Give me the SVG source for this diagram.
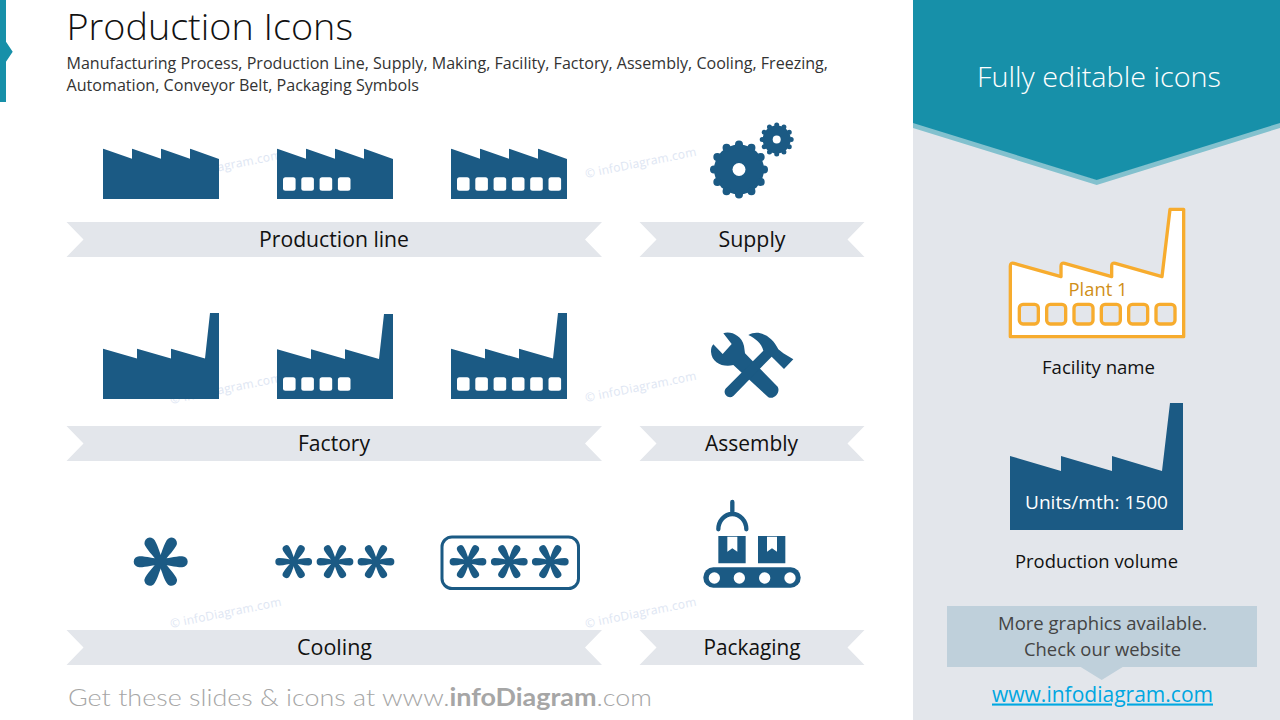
<svg xmlns="http://www.w3.org/2000/svg" xmlns:xlink="http://www.w3.org/1999/xlink" width="1280" height="720" viewBox="0 0 1280 720">
<style>
text{font-family:"Open Sans","Noto Sans","Liberation Sans",sans-serif}
.i{fill:#1B5A84}
.r{fill:#E3E6EB}
.w{fill:#fff}
.l{font-size:21px;fill:#111;text-anchor:middle}
.s{font-size:16.5px;fill:#333}
.n{font-size:18px;fill:#111;text-anchor:middle}
.m{font-size:12px;fill:#DEE6F3}
</style>
<defs>
<path id="f1" d="M103 199V149.500Q103 148.500 104 149L132 158.800V149.500Q132 148.500 133 149L161 158.800V149.500Q161 148.500 162 149L190 158.800V149.500Q190 148.500 191 149L219 159V199Z"/>
<path id="f2" d="M103 399V349Q103 348.500 104 349L137 358.500V349.500Q137 348.500 138 349L171 358.500V349.500Q171 348.500 172 349L205 358.500L210 313H219V399Z"/>
<rect id="win" y="177.300" width="12.600" height="13.400" rx="2.500"/>
<path id="pet" d="M0-3C8-3 13-5.500 21.500-5.500A5.500 5.500 0 0 1 21.500 5.500C13 5.500 8 3 0 3Z"/>
<g id="ast">
<use xlink:href="#pet"/><use xlink:href="#pet" transform="rotate(60)"/><use xlink:href="#pet" transform="rotate(120)"/><use xlink:href="#pet" transform="rotate(180)"/><use xlink:href="#pet" transform="rotate(240)"/><use xlink:href="#pet" transform="rotate(300)"/>
<circle r="6.500"/>
</g>
<g id="wins4"><use xlink:href="#win" x="283"/><use xlink:href="#win" x="301.300"/><use xlink:href="#win" x="319.600"/><use xlink:href="#win" x="337.900"/></g>
<g id="wins6"><use xlink:href="#win" x="457"/><use xlink:href="#win" x="475.300"/><use xlink:href="#win" x="493.600"/><use xlink:href="#win" x="511.900"/><use xlink:href="#win" x="530.200"/><use xlink:href="#win" x="548.500"/></g>
</defs>
<rect width="1280" height="720" fill="#fff"/>
<g id="accent"><path d="M0 0H6V41.700L12.700 51.700L6 61.700V102H0Z" fill="#1790A9"/></g>
<g id="watermarks">
<text class="m" transform="translate(171 181) rotate(-11.400)" textLength="113" lengthAdjust="spacing">© infoDiagram.com</text>
<text class="m" transform="translate(586 178) rotate(-11.400)" textLength="113" lengthAdjust="spacing">© infoDiagram.com</text>
<text class="m" transform="translate(171 404) rotate(-11.400)" textLength="113" lengthAdjust="spacing">© infoDiagram.com</text>
<text class="m" transform="translate(586 402) rotate(-11.400)" textLength="113" lengthAdjust="spacing">© infoDiagram.com</text>
<text class="m" transform="translate(171 628) rotate(-11.400)" textLength="113" lengthAdjust="spacing">© infoDiagram.com</text>
<text class="m" transform="translate(586 628) rotate(-11.400)" textLength="113" lengthAdjust="spacing">© infoDiagram.com</text>
</g>
<g id="title">
<text x="66.500" y="40" font-size="37" font-weight="300" fill="#111" textLength="286.500" lengthAdjust="spacingAndGlyphs">Production Icons</text>
<text class="s" x="66.500" y="68.500" textLength="761.500" lengthAdjust="spacingAndGlyphs">Manufacturing Process, Production Line, Supply, Making, Facility, Factory, Assembly, Cooling, Freezing,</text>
<text class="s" x="66.500" y="91" textLength="352.500" lengthAdjust="spacingAndGlyphs">Automation, Conveyor Belt, Packaging Symbols</text>
</g>
<g id="production-line-1" class="i"><use xlink:href="#f1"/></g>
<g id="production-line-2"><use xlink:href="#f1" x="174" class="i"/><use xlink:href="#wins4" class="w"/></g>
<g id="production-line-3"><use xlink:href="#f1" x="348" class="i"/><use xlink:href="#wins6" class="w"/></g>
<g id="supply">
<circle cx="739" cy="169.500" r="25" class="i"/>
<circle cx="739" cy="169.500" r="25" fill="none" stroke="#1B5A84" stroke-width="8" stroke-linecap="round" pathLength="120" stroke-dasharray="0 10"/>
<circle cx="739" cy="169.500" r="6.500" class="w"/>
<circle cx="776.700" cy="139.500" r="14" class="i"/>
<circle cx="776.700" cy="139.500" r="14.500" fill="none" stroke="#1B5A84" stroke-width="5" stroke-linecap="round" pathLength="120" stroke-dasharray="0 10"/>
<circle cx="776.700" cy="139.500" r="4" class="w"/>
</g>
<g id="ribbon-production-line"><path class="r" d="M66.500 222H602L585 239.500L602 257H66.500L83.500 239.500Z"/><text class="l" x="334" y="247" textLength="150" lengthAdjust="spacingAndGlyphs">Production line</text></g>
<g id="ribbon-supply"><path class="r" d="M639.500 222H864.500L847.500 239.500L864.500 257H639.500L656.500 239.500Z"/><text class="l" x="752" y="247" textLength="67" lengthAdjust="spacingAndGlyphs">Supply</text></g>
<g id="factory-1" class="i"><use xlink:href="#f2"/></g>
<g id="factory-2"><path class="i" d="M277 399V349.500Q277 349 278 349.500L311 359V349.500Q311 349 312 349.500L345 359V349.500Q345 349 346 349.500L379 359L384 314H393V399Z"/><use xlink:href="#wins4" y="200" class="w"/></g>
<g id="factory-3"><use xlink:href="#f2" x="348" class="i"/><use xlink:href="#wins6" y="200" class="w"/></g>
<g id="assembly" transform="translate(680 320) scale(.33333)" class="i">
<path d="M130 40C150 32 185 45 192 78L195 100L293 200C302 215 285 240 265 232L160 135C130 142 95 130 93 95C93 85 95 78 100 73L128 102L155 72Z"/>
<path d="M205 45C235 28 275 45 295 88L310 100L340 118L312 147L285 120L275 110L160 228C145 240 125 220 138 205L250 92C245 70 225 55 205 45Z"/>
</g>
<g id="ribbon-factory"><path class="r" d="M66.500 426H602L585 443.500L602 461H66.500L83.500 443.500Z"/><text class="l" x="334" y="451" textLength="72" lengthAdjust="spacingAndGlyphs">Factory</text></g>
<g id="ribbon-assembly"><path class="r" d="M639.500 426H864.500L847.500 443.500L864.500 461H639.500L656.500 443.500Z"/><text class="l" x="751.500" y="451" textLength="93" lengthAdjust="spacingAndGlyphs">Assembly</text></g>
<g id="cooling-1" class="i"><use xlink:href="#ast" transform="translate(160.700 561.700)"/></g>
<g id="cooling-2" class="i"><use xlink:href="#ast" transform="translate(293.700 561.700) scale(.68)"/><use xlink:href="#ast" transform="translate(335 561.700) scale(.68)"/><use xlink:href="#ast" transform="translate(376 561.700) scale(.68)"/></g>
<g id="cooling-3" class="i"><rect x="442" y="537" width="136.500" height="51.500" rx="10" fill="none" stroke="#1B5A84" stroke-width="3"/><use xlink:href="#ast" transform="translate(468 561.700) scale(.68)"/><use xlink:href="#ast" transform="translate(509.300 561.700) scale(.68)"/><use xlink:href="#ast" transform="translate(550.300 561.700) scale(.68)"/></g>
<g id="packaging" transform="translate(680 490) scale(.33333)">
<path d="M157 36V72M115 118A42 46 0 0 1 199 118" fill="none" stroke="#1B5A84" stroke-width="13" stroke-linecap="round"/>
<path class="i" d="M115 138H197V220H115ZM234 138H316V220H234Z"/>
<path class="w" d="M142 140H172V185L157 175L142 185ZM261 140H291V185L276 175L261 185Z"/>
<rect class="i" x="70" y="232" width="292" height="61" rx="30"/>
<circle class="w" cx="103" cy="264" r="17"/><circle class="w" cx="178" cy="264" r="17"/><circle class="w" cx="254" cy="264" r="17"/><circle class="w" cx="330" cy="264" r="17"/>
</g>
<g id="ribbon-cooling"><path class="r" d="M66.500 630H602L585 647.500L602 665H66.500L83.500 647.500Z"/><text class="l" x="334.500" y="655" textLength="75" lengthAdjust="spacingAndGlyphs">Cooling</text></g>
<g id="ribbon-packaging"><path class="r" d="M639.500 630H864.500L847.500 647.500L864.500 665H639.500L656.500 647.500Z"/><text class="l" x="752" y="655" textLength="97" lengthAdjust="spacingAndGlyphs">Packaging</text></g>
<g id="footer"><text x="68" y="706" font-size="24" fill="#A6A6A6" font-weight="300" style="font-family:Lato,'Open Sans',sans-serif" textLength="584" lengthAdjust="spacingAndGlyphs">Get these slides &amp; icons at www.<tspan font-weight="700">infoDiagram</tspan>.com</text></g>
<g id="side-panel">
<rect x="913" width="367" height="720" fill="#E3E6EB"/>
<path d="M913 122L1096.700 179.500L1280 122V128L1096.700 185L913 128Z" fill="#83C1CE"/>
<path d="M913 0H1280V123L1096.700 180L913 123Z" fill="#1790A9"/>
<text x="1099" y="87" font-size="28" font-weight="300" fill="#fff" text-anchor="middle" textLength="244" lengthAdjust="spacingAndGlyphs">Fully editable icons</text>
</g>
<g id="plant">
<g transform="translate(990 195) scale(.33333)">
<path d="M61 213Q61 202 72 205L213 245V213Q213 202 224 205L365 245V213Q365 202 376 205L516 245L540 43H581V425H61Z" fill="#fff" stroke="#F7AC2E" stroke-width="10" stroke-linejoin="round"/>
<g fill="#E3E6EB" stroke="#F7AC2E" stroke-width="10">
<rect x="88" y="328" width="57" height="59" rx="11"/><rect x="170" y="328" width="57" height="59" rx="11"/><rect x="252" y="328" width="57" height="59" rx="11"/><rect x="334" y="328" width="57" height="59" rx="11"/><rect x="416" y="328" width="57" height="59" rx="11"/><rect x="498" y="328" width="57" height="59" rx="11"/>
</g>
</g>
<text x="1098" y="296" font-size="17.500" fill="#D08F18" text-anchor="middle" textLength="59" lengthAdjust="spacingAndGlyphs">Plant 1</text>
<text class="n" x="1098.500" y="374" textLength="113" lengthAdjust="spacingAndGlyphs">Facility name</text>
</g>
<g id="volume">
<path class="i" d="M1010 530V456L1061 471V456L1112 471V456L1162 471L1170 403H1183V530Z"/>
<text x="1096.500" y="509" font-size="18" fill="#fff" text-anchor="middle" textLength="143" lengthAdjust="spacingAndGlyphs">Units/mth: 1500</text>
<text class="n" x="1096.500" y="568" textLength="163" lengthAdjust="spacingAndGlyphs">Production volume</text>
</g>
<g id="callout">
<path d="M947 606H1257V667H1122.700L1101.700 680L1080.700 667H947Z" fill="#BFD0DB"/>
<text x="1102.500" y="630" font-size="18.500" fill="#444" text-anchor="middle" textLength="209" lengthAdjust="spacingAndGlyphs">More graphics available.</text>
<text x="1102.500" y="656" font-size="18.500" fill="#444" text-anchor="middle" textLength="157" lengthAdjust="spacingAndGlyphs">Check our website</text>
<text x="1102.500" y="701.500" font-size="21" fill="#00A7E1" text-anchor="middle" text-decoration="underline" textLength="221" lengthAdjust="spacingAndGlyphs">www.infodiagram.com</text>
</g>
</svg>
